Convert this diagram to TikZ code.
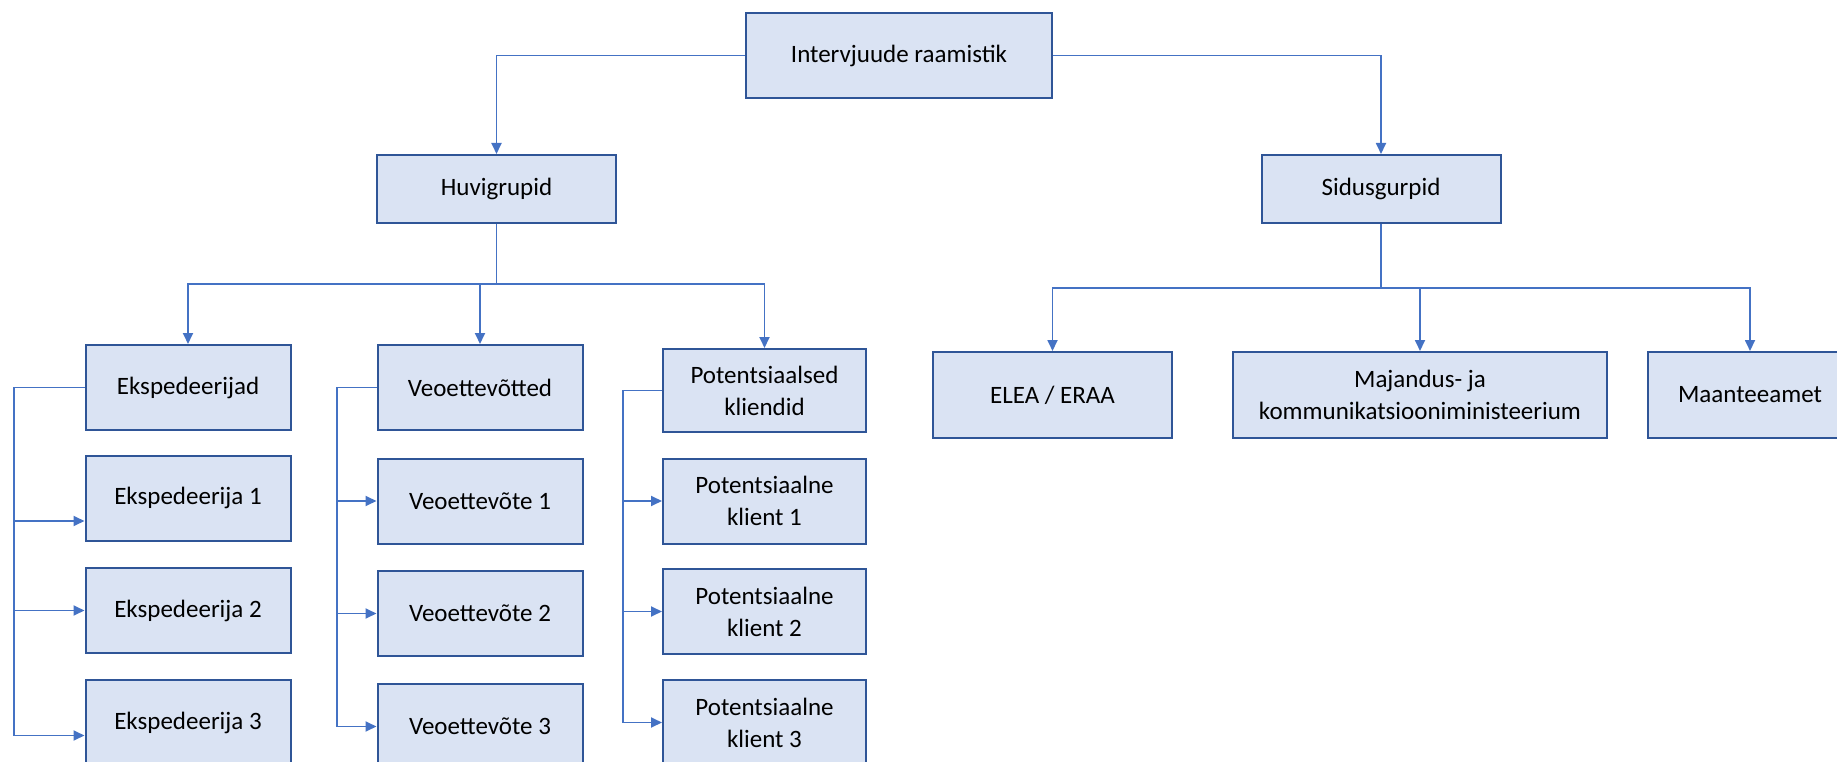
\documentclass[tikz,border=0pt]{standalone}
\usepackage{fontspec}
\setmainfont{Carlito}
\usetikzlibrary{arrows.meta}
\definecolor{boxfill}{HTML}{DAE3F3}
\definecolor{boxline}{HTML}{2F5597}
\definecolor{wire}{HTML}{4472C4}
\tikzset{
  box/.style={draw=boxline, line width=2pt, fill=boxfill, rectangle,
    inner sep=0pt, align=center, font=\fontsize{25}{32}\selectfont,
    minimum height=85pt},
  wireline/.style={draw=wire, line width=1.8pt},
  arr/.style={wireline, -{Triangle[length=11pt,width=10pt]}},
}
\begin{document}
\begin{tikzpicture}[x=1pt,y=-1pt]
\useasboundingbox (0,0) rectangle (1837,762);

% root and the two main groups
\node[box, minimum width=306pt] (root) at (899,55.5) {Intervjuude raamistik};
\node[box, minimum width=239pt, minimum height=68pt] (huvi) at (496.5,189) {Huvigrupid};
\node[box, minimum width=239pt, minimum height=68pt] (sidus) at (1381,189) {Sidusgurpid};

% interest groups
\node[box, minimum width=205pt] (eksp) at (188,387.5) {Ekspedeerijad};
\node[box, minimum width=205pt] (veo) at (480,387.5) {Veoettevõtted};
\node[box, minimum width=203pt, minimum height=83pt] (pot) at (764.5,390.5) {Potentsiaalsed\\kliendid};

\node[box, minimum width=205pt] (eksp1) at (188,498) {Ekspedeerija 1};
\node[box, minimum width=205pt] (eksp2) at (188,610.5) {Ekspedeerija 2};
\node[box, minimum width=205pt] (eksp3) at (188,722.5) {Ekspedeerija 3};

\node[box, minimum width=205pt] (veo1) at (480,501) {Veoettevõte 1};
\node[box, minimum width=205pt] (veo2) at (480,613.5) {Veoettevõte 2};
\node[box, minimum width=205pt] (veo3) at (480,726.5) {Veoettevõte 3};

\node[box, minimum width=203pt] (pot1) at (764.5,501) {Potentsiaalne\\klient 1};
\node[box, minimum width=203pt] (pot2) at (764.5,611.5) {Potentsiaalne\\klient 2};
\node[box, minimum width=203pt] (pot3) at (764.5,722.5) {Potentsiaalne\\klient 3};

% stakeholders
\node[box, minimum width=239pt, minimum height=86pt] (elea) at (1052.5,395) {ELEA / ERAA};
\node[box, minimum width=374pt, minimum height=86pt] (maj) at (1420,395) {Majandus- ja\\kommunikatsiooniministeerium};
\node[box, minimum width=204pt, minimum height=86pt] (maan) at (1750,395) {Maanteeamet};

% root to groups
\draw[arr] (root.west) -| (huvi.north);
\draw[arr] (root.east) -| (sidus.north);

% interest group bus
\coordinate (hbus) at (496.5,284);
\draw[wireline] (huvi.south) -- (hbus);
\draw[arr] (hbus) -| (eksp.north);
\draw[arr] (hbus) -| (veo.north);
\draw[arr] (hbus) -| (pot.north);

% stakeholder bus
\coordinate (sbus) at (1381,288);
\draw[wireline] (sidus.south) -- (sbus);
\draw[arr] (sbus) -| (elea.north);
\draw[arr] (sbus) -| (maj.north);
\draw[arr] (sbus) -| (maan.north);

% side brackets to the individual members
\coordinate (ekx) at (14,0);
\coordinate (vex) at (337,0);
\coordinate (pox) at (623,0);
\coordinate (e1in) at ([yshift=-23pt]eksp1.west);
\coordinate (e3in) at ([yshift=-13pt]eksp3.west);

\draw[arr] (eksp.west) -- (ekx |- eksp.west) |- (e1in);
\draw[arr] (eksp.west) -- (ekx |- eksp.west) |- (eksp2.west);
\draw[arr] (eksp.west) -- (ekx |- eksp.west) |- (e3in);

\draw[arr] (veo.west) -- (vex |- veo.west) |- (veo1.west);
\draw[arr] (veo.west) -- (vex |- veo.west) |- (veo2.west);
\draw[arr] (veo.west) -- (vex |- veo.west) |- (veo3.west);

\draw[arr] (pot.west) -- (pox |- pot.west) |- (pot1.west);
\draw[arr] (pot.west) -- (pox |- pot.west) |- (pot2.west);
\draw[arr] (pot.west) -- (pox |- pot.west) |- (pot3.west);
\end{tikzpicture}
\end{document}
